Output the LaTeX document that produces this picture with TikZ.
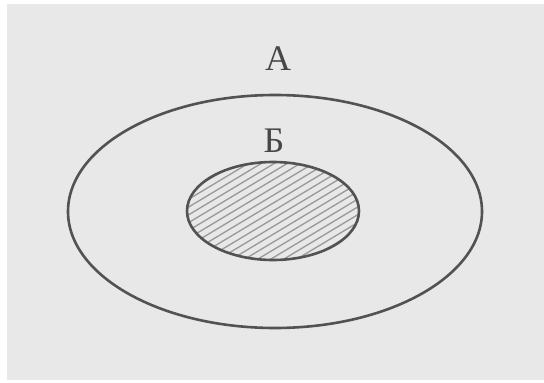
\documentclass[tikz,border=0pt]{standalone}
\usepackage{fontspec}
\setmainfont{Liberation Serif}
\begin{document}
\begin{tikzpicture}[x=1pt, y=-1pt,
  setline/.style={draw=black!68, line width=2.6pt},
  hatchline/.style={draw=black!40, line width=1.3pt},
  setlabel/.style={font=\fontsize{36}{36}\selectfont, text=black!72, inner sep=0pt}
]
% paper
\fill[white] (0,0) rectangle (544,383);
\fill[black!9] (7,4) rectangle (544,380);
\useasboundingbox (0,0) rectangle (544,383);

% set B, hatched
\coordinate (cB) at (273,211);
\begin{scope}
  \clip (cB) ellipse [x radius=86, y radius=49];
  \foreach \i in {-260,-247,...,260}
    \draw[hatchline] (273+\i-100,271) -- (273+\i+100,151);
\end{scope}
\draw[setline] (cB) ellipse [x radius=86, y radius=49];

% set A
\coordinate (cA) at (275,211.5);
\draw[setline] (cA) ellipse [x radius=207, y radius=116.5];

\node[setlabel] (labA) at (278,59) {А};
\node[setlabel] (labB) at (274,141) {Б};
\end{tikzpicture}
\end{document}
